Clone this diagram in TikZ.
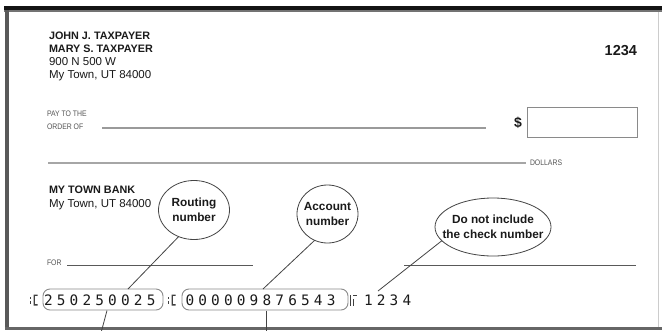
\documentclass[tikz,border=0pt]{standalone}
\usepackage{fontspec}
\setmainfont{Liberation Sans}
\newfontfamily\smallfont[FakeStretch=0.86]{Liberation Sans}
\newfontfamily\micrfont[LetterSpace=29]{DejaVu Sans Mono}
\usetikzlibrary{shapes.geometric}
\definecolor{ink}{HTML}{1A1A1A}
\definecolor{soft}{HTML}{555555}
\definecolor{lineg}{HTML}{9A9A9A}
\definecolor{boxg}{HTML}{8A8A8A}
\definecolor{bubline}{HTML}{444444}
\definecolor{connc}{HTML}{444444}
\begin{document}
\begin{tikzpicture}[x=1pt,y=-1pt,
  every node/.style={inner sep=0pt, outer sep=0pt, text=ink},
  boldtxt/.style={font=\fontsize{10.8}{13}\selectfont\bfseries, anchor=base west},
  regtxt/.style={font=\fontsize{11.5}{13}\selectfont, anchor=base west},
  tinytxt/.style={font=\smallfont\fontsize{8}{9}\selectfont, anchor=base west, text=soft},
  bubble/.style={ellipse, draw=bubline, line width=0.8pt, fill=white},
  bubtext/.style={font=\fontsize{11.8}{15}\selectfont\bfseries, align=center},
  micr/.style={font=\micrfont\fontsize{14.4}{16}\selectfont, anchor=base west},
  micrink/.style={fill=black!75},
  micrbox/.style={draw=boxg, rounded corners=7pt, line width=0.9pt},
  conn/.style={draw=connc, line width=0.8pt},
  payline/.style={draw=lineg, line width=1.2pt},
  dolline/.style={draw=black!35, line width=2pt},
  forline/.style={draw=black!65, line width=0.8pt},
]
\useasboundingbox (0,0) rectangle (662,330);
\fill[white] (0,0) rectangle (662,330);
% frame
\fill[black!92] (4,5.5) rectangle (662,10);
\fill[black!55] (4,10) rectangle (662,12);
\fill[black!65] (5,10) rectangle (9,329);
\fill[black!60] (5,327) rectangle (662,329.5);
\draw[black!20, line width=1pt] (658.5,12) -- (658.5,327);

% header
\node[boldtxt] (n1) at (49,39) {JOHN J. TAXPAYER};
\node[boldtxt] (n2) at (49,52) {MARY S. TAXPAYER};
\node[regtxt] (n3) at (49,65.5) {900 N 500 W};
\node[regtxt] (n4) at (49,78) {My Town, UT 84000};
\node[font=\fontsize{14.5}{16}\selectfont\bfseries, anchor=base east] (chk) at (637,55) {1234};

% pay line
\node[tinytxt] (pay1) at (47,116) {PAY TO THE};
\node[tinytxt] (pay2) at (47,129) {ORDER OF};
\draw[payline] (102,128) -- (486,128);
\node[font=\fontsize{14}{16}\selectfont\bfseries, anchor=base west] (dollar) at (514,127.5) {\$};
\node[draw=boxg, line width=0.9pt, minimum width=110, minimum height=30, anchor=north west] (amount) at (527,107) {};
\draw[dolline] (48,163) -- (526,163);
\node[tinytxt] (dollars) at (530,165.5) {DOLLARS};

% bank
\node[boldtxt] (bank) at (49,193.3) {MY TOWN BANK};
\node[regtxt] (bankaddr) at (49,207.5) {My Town, UT 84000};
\node[tinytxt] (for) at (47,265) {FOR};
\draw[forline] (67,265) -- (253,265);
\draw[forline] (404,265) -- (636,265);

% MICR line
% transit symbol 1 (drawn: no installed font has it)
\fill[micrink] (29.5,296.5) rectangle (31.1,298.6);
\fill[micrink] (29.5,301.4) rectangle (31.1,303.5);
\fill[micrink] (33.5,294.5) -- (37.5,294.5) -- (37.5,295.8) -- (34.8,295.8) -- (34.8,304.2) -- (37.5,304.2) -- (37.5,305.5) -- (33.5,305.5) -- cycle;
\node[micrbox, minimum width=120, minimum height=21] (rbox) at (103,299.5) {};
\node[micr] (rnum) at (44,305) {250250025};
% transit symbol 2
\fill[micrink] (167.5,296.5) rectangle (169.1,298.6);
\fill[micrink] (167.5,301.4) rectangle (169.1,303.5);
\fill[micrink] (171.5,294.5) -- (175.5,294.5) -- (175.5,295.8) -- (172.8,295.8) -- (172.8,304.2) -- (175.5,304.2) -- (175.5,305.5) -- (171.5,305.5) -- cycle;
\node[micrbox, minimum width=166, minimum height=21] (abox) at (265,299.5) {};
\node[micr] (anum) at (185.5,305) {000009876543};
% on-us symbol
\fill[micrink] (350,294.5) rectangle (351.2,305.5);
\fill[micrink] (353.2,298.5) rectangle (354.4,305.5);
\fill[micrink] (353.2,294.5) rectangle (357,295.8);
\node[micr] (cnum) at (364,305) {1234};

% connectors
\coordinate (rtop) at (128,289);
\coordinate (rbot1) at (107,310.5);
\coordinate (rbot2) at (101.5,331);
\coordinate (atop) at (263,289);
\coordinate (abot1) at (266,310.5);
\coordinate (abot2) at (266,331);
\coordinate (ctop) at (378,291);

% bubbles
\node[bubble, minimum width=71, minimum height=59] (routing) at (194,210) {};
\node[bubtext] (routingtxt) at (routing.center) {Routing\\number};
\node[bubble, minimum width=61, minimum height=58] (account) at (327.5,214) {};
\node[bubtext] (accounttxt) at (account.center) {Account\\number};
\node[bubble, minimum width=116, minimum height=58] (check) at (493,227) {};
\node[bubtext] (checktxt) at (check.center) {Do not include\\the check number};

\draw[conn] (routing.240) -- (rtop);
\draw[conn] (rbot1) -- (rbot2);
\draw[conn] (account.244) -- (atop);
\draw[conn] (abot1) -- (abot2);
\draw[conn] (check.195) -- (ctop);
\end{tikzpicture}
\end{document}
